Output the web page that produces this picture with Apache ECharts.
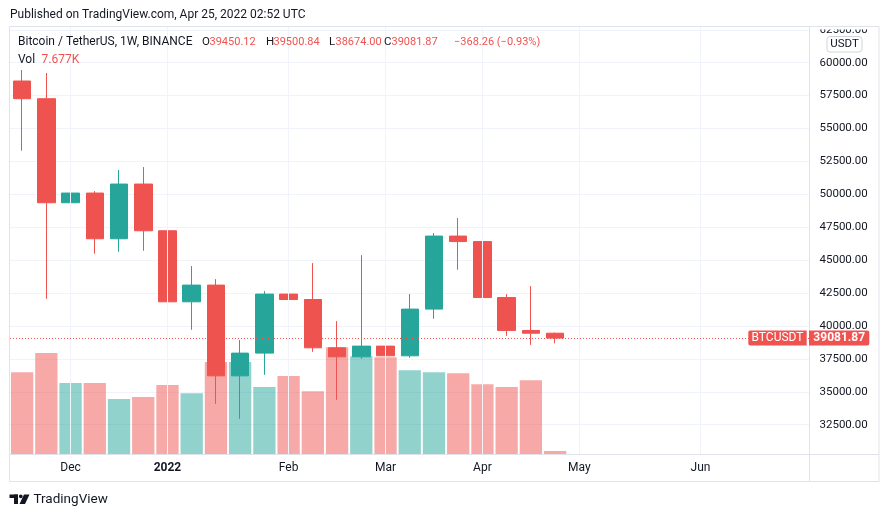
<!DOCTYPE html>
<html><head><meta charset="utf-8">
<script src="https://cdn.jsdelivr.net/npm/echarts@6/dist/echarts.min.js"></script>
<style>html,body{margin:0;padding:0;background:#fff}#c{width:889px;height:517px}</style>
</head><body><div id="c"></div>
<script>
const weeks = ['2021-11-22','2021-11-29','2021-12-06','2021-12-13','2021-12-20','2021-12-27','2022-01-03','2022-01-10','2022-01-17','2022-01-24','2022-01-31','2022-02-07','2022-02-14','2022-02-21','2022-02-28','2022-03-07','2022-03-14','2022-03-21','2022-03-28','2022-04-04','2022-04-11','2022-04-18','2022-04-25','2022-05-02','2022-05-09','2022-05-16','2022-05-23','2022-05-30','2022-06-06','2022-06-13','2022-06-20','2022-06-27','2022-07-04'];
const monthTickWeeks = ['2021-12-06','2022-01-03','2022-02-07','2022-03-07','2022-04-04','2022-05-02','2022-06-06'];
const monthTickLabels = ['Dec','2022','Feb','Mar','Apr','May','Jun'];
const yearLabels = ['2022'];
const opens  = [58609,57264,49360,50097,46624,50781,47232,41836,43105,36212,37937,42421,42010,38340,37656,38469,37732,41281,46829,46410,42160,39660,39450.12];
const highs  = [59445,59217,51921,50249,51845,52073,47589,44549,43561,38925,42649,45841,44777,40369,45385,42649,42421,47057,48197,47209,42421,43029,39500.84];
const lows   = [53312,42064,46776,45484,45636,45712,40544,39708,34084,32944,36288,41684,38036,34388,37504,37200,37580,40544,44268,41930,39252,38568,38674.00];
const closes = [57264,49360,50097,46624,50781,47232,41836,43105,36212,37937,42421,42010,38340,37656,38469,37732,41281,46829,46410,42160,39660,39450.12,39081.87];
const volumesK = [210,259,182,182,141,146,177,156,236,236,172,200,161,274,251,248,215,210,207,179,172,189,7.677];
const priceMin = 30000, priceMax = 62735, priceStep = 2500;
const volMaxK = 1096;
const symbolName = 'BTCUSDT';
const titleText = 'Bitcoin / TetherUS, 1W, BINANCE';
const changeText = '\u2212368.26 (\u22120.93%)';

const UP = '#26a69a', DOWN = '#ef5350', TXT = '#131722', GRID = '#f0f3fa', BORDER = '#e0e3eb';
const FONT = 'Roboto, "Noto Sans", sans-serif';

const candleData = opens.map((o, i) => [o, closes[i], lows[i], highs[i]]);
const volData = volumesK.map((v, i) => ({
  value: v,
  itemStyle: { color: closes[i] >= opens[i] ? 'rgba(38,166,154,0.5)' : 'rgba(239,83,80,0.5)' }
}));
const labelMap = {};
monthTickWeeks.forEach((w, i) => labelMap[w] = monthTickLabels[i]);

const chart = echarts.init(document.getElementById('c'), null, { renderer: 'canvas' });
const L = 10, R = 889 - 809.5, TOP = 26.7;
chart.setOption({
  animation: false,
  textStyle: { fontFamily: FONT },
  grid: [
    { left: L, right: R, top: TOP, bottom: 517 - 457.6 },
    { left: L, right: R, top: TOP, bottom: 517 - 454 }
  ],
  xAxis: [
    { type: 'category', gridIndex: 0, data: weeks, boundaryGap: true, show: false },
    { type: 'category', gridIndex: 1, data: weeks, boundaryGap: true,
      axisLine: { show: false }, axisTick: { show: false }, splitLine: { show: false },
      axisLabel: {
        interval: (idx, val) => labelMap[val] !== undefined,
        formatter: val => yearLabels.includes(labelMap[val]) ? '{b|' + labelMap[val] + '}' : labelMap[val],
        color: TXT, fontSize: 12, margin: 8, fontFamily: FONT,
        rich: { b: { fontWeight: 'bold', color: TXT, fontSize: 12, fontFamily: FONT } }
      } }
  ],
  yAxis: [
    { type: 'value', gridIndex: 0, position: 'right', min: priceMin, max: priceMax, interval: priceStep,
      axisLine: { show: false }, axisTick: { show: false },
      splitLine: { show: true, showMinLine: false, showMaxLine: false, lineStyle: { color: GRID, width: 1 } },
      axisLabel: { color: TXT, fontSize: 11.5, margin: 10, showMinLabel: false, showMaxLabel: false,
        formatter: v => v.toFixed(2), fontFamily: FONT } },
    { type: 'value', gridIndex: 1, min: 0, max: volMaxK, show: false, splitLine: { show: false } }
  ],
  series: [
    { type: 'line', xAxisIndex: 1, yAxisIndex: 1, data: [], z: 1, silent: true,
      markLine: { silent: true, symbol: ['none', 'none'], label: { show: false }, animation: false,
        lineStyle: { color: GRID, width: 1, type: 'solid' },
        data: monthTickWeeks.map(w => ({ xAxis: w })) } },
    { type: 'bar', xAxisIndex: 1, yAxisIndex: 1, data: volData, barWidth: '92%', z: 2, silent: true },
    { type: 'candlestick', xAxisIndex: 0, yAxisIndex: 0, data: candleData, barWidth: 18, z: 3,
      itemStyle: { color: UP, color0: DOWN, borderColor: UP, borderColor0: DOWN, borderWidth: 1 },
      markLine: { silent: true, symbol: ['none', 'none'], label: { show: false }, animation: false,
        lineStyle: { color: DOWN, width: 1, type: [1, 2] },
        data: [{ yAxis: closes[closes.length - 1] }] } }
  ]
});

function drawOverlay() {
  const last = closes.length - 1;
  const py = chart.convertToPixel({ yAxisIndex: 0 }, closes[last]);
  const t = (x, y, text, color, size, weight, align) => ({
    type: 'text', x, y, z: 100,
    style: { text, fill: color, font: (weight || 'normal') + ' ' + (size || 12) + 'px ' + FONT,
      textAlign: align || 'left', textVerticalAlign: 'middle' }
  });
  const LS = 11;
  const g = [
    { type: 'rect', shape: { x: 809, y: 0, width: 80, height: 29.5 }, style: { fill: '#fff' }, z: 90 },
    t(10, 15, 'Published on TradingView.com, Apr 25, 2022 02:52 UTC', TXT, 12),
    { type: 'rect', shape: { x: 9.5, y: 26.5, width: 869.5, height: 455 }, style: { fill: 'none', stroke: BORDER, lineWidth: 1 }, z: 95 },
    { type: 'line', shape: { x1: 809.5, y1: 26.5, x2: 809.5, y2: 481.5 }, style: { stroke: BORDER, lineWidth: 1 }, z: 95 },
    { type: 'line', shape: { x1: 9.5, y1: 454.5, x2: 879, y2: 454.5 }, style: { stroke: BORDER, lineWidth: 1 }, z: 95 },
    t(18, 42, titleText, TXT, 12),
    t(202, 42, 'O', TXT, 11.5), t(209.5, 42, opens[last].toFixed(2), DOWN, LS),
    t(266, 42, 'H', TXT, 11.5), t(273.5, 42, highs[last].toFixed(2), DOWN, LS),
    t(329, 42, 'L', TXT, 11.5), t(335.5, 42, lows[last].toFixed(2), DOWN, LS),
    t(384, 42, 'C', TXT, 11.5), t(391.5, 42, closes[last].toFixed(2), DOWN, LS),
    t(454, 42, changeText, DOWN, LS),
    t(18, 60, 'Vol', TXT, 12), t(41.5, 60, volumesK[last].toFixed(3) + 'K', DOWN, 12),
    { type: 'rect', shape: { x: 827, y: 36.5, width: 35, height: 15.5, r: 3 }, style: { fill: '#fff', stroke: '#d1d4dc', lineWidth: 1 }, z: 96 },
    t(844.5, 44.5, 'USDT', TXT, 11.5, 'normal', 'center'),
    { type: 'rect', shape: { x: 748.3, y: py - 7.5, width: 58.4, height: 15, r: [2, 0, 0, 2] }, style: { fill: DOWN }, z: 96 },
    t(777.5, py, symbolName, '#fff', 12, 'normal', 'center'),
    { type: 'rect', shape: { x: 809, y: py - 7.5, width: 60.3, height: 15, r: [0, 2, 2, 0] }, style: { fill: DOWN }, z: 96 },
    t(839.2, py, closes[last].toFixed(2), '#fff', 12, 'bold', 'center'),
    { type: 'rect', shape: { x: 9.5, y: 494.5, width: 8.5, height: 3.5 }, style: { fill: TXT }, z: 100 },
    { type: 'rect', shape: { x: 14, y: 494.5, width: 4, height: 9.5 }, style: { fill: TXT }, z: 100 },
    { type: 'circle', shape: { cx: 20.8, cy: 496.3, r: 1.9 }, style: { fill: TXT }, z: 100 },
    { type: 'polygon', shape: { points: [[24, 494.5], [29.5, 494.5], [25, 504], [19.5, 504]] }, style: { fill: TXT }, z: 100 },
    t(33.5, 499.5, 'TradingView', TXT, 13.5)
  ];
  chart.setOption({ graphic: g });
}
drawOverlay();
</script></body></html>
